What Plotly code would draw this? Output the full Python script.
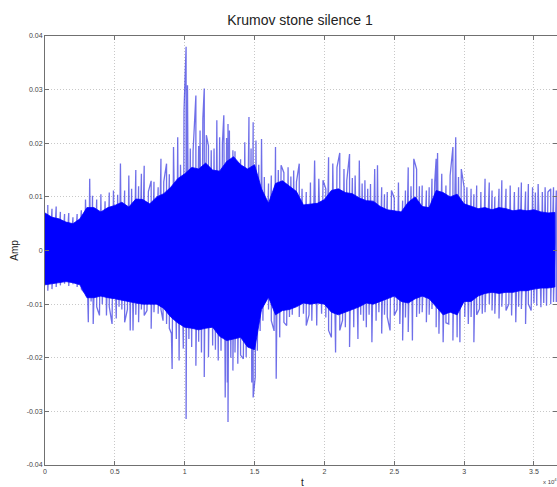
import plotly.graph_objects as go

# Dense body of the waveform (upper / lower envelope), t in units of 10^4 samples
body_t = [0.00, 0.05, 0.10, 0.15, 0.20, 0.25, 0.30, 0.35, 0.40, 0.45, 0.50, 0.55, 0.60, 0.65, 0.70,
          0.75, 0.80, 0.85, 0.90, 0.95, 1.00, 1.05, 1.10, 1.15, 1.20, 1.25, 1.30, 1.35, 1.40, 1.45,
          1.50, 1.55, 1.60, 1.65, 1.70, 1.75, 1.80, 1.85, 1.90, 1.95, 2.00, 2.05, 2.10, 2.15, 2.20,
          2.25, 2.30, 2.35, 2.40, 2.45, 2.50, 2.55, 2.60, 2.65, 2.70, 2.75, 2.80, 2.85, 2.90, 2.95,
          3.00, 3.05, 3.10, 3.15, 3.20, 3.25, 3.30, 3.35, 3.40, 3.45, 3.50, 3.55, 3.60, 3.65]
body_upper = [0.0070, 0.0062, 0.0059, 0.0053, 0.0050, 0.0059, 0.0080, 0.0080, 0.0072, 0.0080, 0.0084,
              0.0090, 0.0081, 0.0096, 0.0095, 0.0087, 0.0100, 0.0106, 0.0118, 0.0134, 0.0143, 0.0155,
              0.0152, 0.0163, 0.0150, 0.0148, 0.0166, 0.0175, 0.0160, 0.0152, 0.0160, 0.0115, 0.0088,
              0.0125, 0.0130, 0.0120, 0.0110, 0.0085, 0.0087, 0.0088, 0.0095, 0.0112, 0.0115, 0.0108,
              0.0106, 0.0098, 0.0093, 0.0092, 0.0082, 0.0076, 0.0074, 0.0072, 0.0090, 0.0100, 0.0082,
              0.0080, 0.0112, 0.0108, 0.0100, 0.0105, 0.0087, 0.0082, 0.0078, 0.0080, 0.0076, 0.0080,
              0.0078, 0.0074, 0.0076, 0.0074, 0.0076, 0.0072, 0.0070, 0.0071]
body_lower = [-0.0064, -0.0062, -0.0060, -0.0058, -0.0060, -0.0064, -0.0088, -0.0088, -0.0085, -0.0088,
              -0.0090, -0.0092, -0.0095, -0.0098, -0.0100, -0.0100, -0.0100, -0.0108, -0.0124, -0.0135,
              -0.0143, -0.0145, -0.0148, -0.0145, -0.0143, -0.0160, -0.0168, -0.0165, -0.0162, -0.0180,
              -0.0185, -0.0110, -0.0087, -0.0120, -0.0112, -0.0110, -0.0105, -0.0098, -0.0100, -0.0098,
              -0.0100, -0.0115, -0.0120, -0.0115, -0.0110, -0.0105, -0.0098, -0.0100, -0.0095, -0.0090,
              -0.0085, -0.0095, -0.0098, -0.0090, -0.0085, -0.0090, -0.0105, -0.0120, -0.0115, -0.0120,
              -0.0095, -0.0095, -0.0085, -0.0080, -0.0078, -0.0080, -0.0078, -0.0078, -0.0075, -0.0075,
              -0.0072, -0.0070, -0.0070, -0.0068]

# Positive peaks
peak_up_t = [0.02, 0.05, 0.08, 0.11, 0.14, 0.17, 0.20, 0.23, 0.26, 0.29, 0.32, 0.34, 0.37, 0.40, 0.43,
             0.46, 0.49, 0.52, 0.54, 0.57, 0.60, 0.62, 0.65, 0.67, 0.69, 0.71, 0.74, 0.76, 0.78, 0.81,
             0.83, 0.85, 0.87, 0.89, 0.92, 0.95, 0.97, 0.995, 1.01, 1.02, 1.04, 1.06, 1.08, 1.10, 1.11,
             1.13, 1.14, 1.155, 1.17, 1.19, 1.21, 1.23, 1.25, 1.27, 1.28, 1.30, 1.31, 1.32, 1.345, 1.36,
             1.38, 1.40, 1.43, 1.46, 1.475, 1.49, 1.51, 1.53, 1.55, 1.57, 1.60, 1.62, 1.65, 1.67, 1.69,
             1.71, 1.74, 1.76, 1.78, 1.80, 1.82, 1.84, 1.87, 1.90, 1.93, 1.96, 1.99, 2.01, 2.03, 2.06,
             2.09, 2.11, 2.14, 2.16, 2.18, 2.20, 2.22, 2.25, 2.27, 2.29, 2.31, 2.33, 2.36, 2.38, 2.41,
             2.43, 2.45, 2.48, 2.50, 2.53, 2.56, 2.58, 2.60, 2.62, 2.64, 2.66, 2.68, 2.70, 2.73, 2.75,
             2.77, 2.79, 2.80, 2.81, 2.84, 2.87, 2.90, 2.92, 2.94, 2.96, 2.98, 3.00, 3.02, 3.05, 3.07,
             3.09, 3.12, 3.15, 3.18, 3.20, 3.22, 3.25, 3.27, 3.30, 3.33, 3.36, 3.39, 3.41, 3.44, 3.46,
             3.49, 3.51, 3.53, 3.56, 3.58, 3.60, 3.62, 3.64, 3.66]
peak_up = [0.0085, 0.0078, 0.0082, 0.0072, 0.0068, 0.0070, 0.0062, 0.0068, 0.0075, 0.0095, 0.0134,
           0.0102, 0.0095, 0.0105, 0.0092, 0.0108, 0.0112, 0.0104, 0.0162, 0.0112, 0.0140, 0.0115,
           0.0150, 0.0120, 0.0143, 0.0158, 0.0110, 0.0130, 0.0128, 0.0118, 0.0171, 0.0128, 0.0162,
           0.0142, 0.0193, 0.0211, 0.0160, 0.0260, 0.0380, 0.0308, 0.0190, 0.0185, 0.0289, 0.0195,
           0.0224, 0.0246, 0.0302, 0.0215, 0.0195, 0.0187, 0.0190, 0.0243, 0.0211, 0.0200, 0.0252,
           0.0210, 0.0236, 0.0224, 0.0187, 0.0185, 0.0162, 0.0170, 0.0202, 0.0249, 0.0190, 0.0239,
           0.0205, 0.0160, 0.0208, 0.0137, 0.0125, 0.0140, 0.0193, 0.0150, 0.0159, 0.0145, 0.0155,
           0.0138, 0.0149, 0.0128, 0.0162, 0.0115, 0.0109, 0.0127, 0.0168, 0.0134, 0.0131, 0.0115,
           0.0174, 0.0162, 0.0155, 0.0182, 0.0152, 0.0130, 0.0180, 0.0135, 0.0140, 0.0168, 0.0125,
           0.0131, 0.0115, 0.0124, 0.0152, 0.0159, 0.0118, 0.0105, 0.0109, 0.0112, 0.0098, 0.0127,
           0.0093, 0.0112, 0.0155, 0.0120, 0.0171, 0.0152, 0.0120, 0.0121, 0.0112, 0.0118, 0.0134,
           0.0128, 0.0171, 0.0182, 0.0143, 0.0121, 0.0140, 0.0193, 0.0211, 0.0137, 0.0152, 0.0118,
           0.0118, 0.0115, 0.0105, 0.0121, 0.0109, 0.0134, 0.0127, 0.0112, 0.0100, 0.0115, 0.0131,
           0.0115, 0.0121, 0.0109, 0.0118, 0.0127, 0.0110, 0.0124, 0.0118, 0.0108, 0.0124, 0.0109,
           0.0118, 0.0109, 0.0115, 0.0118, 0.0112]

# Negative peaks
peak_lo_t = [0.02, 0.05, 0.08, 0.11, 0.14, 0.17, 0.20, 0.23, 0.26, 0.28, 0.31, 0.33, 0.345, 0.37, 0.39,
             0.41, 0.44, 0.46, 0.48, 0.51, 0.53, 0.55, 0.57, 0.59, 0.61, 0.63, 0.65, 0.67, 0.69, 0.71,
             0.73, 0.76, 0.78, 0.81, 0.83, 0.845, 0.87, 0.89, 0.905, 0.91, 0.94, 0.96, 0.99, 1.01, 1.03,
             1.05, 1.08, 1.10, 1.12, 1.14, 1.17, 1.20, 1.22, 1.24, 1.26, 1.29, 1.305, 1.31, 1.33, 1.345,
             1.36, 1.38, 1.40, 1.42, 1.44, 1.46, 1.48, 1.49, 1.505, 1.52, 1.54, 1.56, 1.58, 1.60, 1.62,
             1.64, 1.655, 1.68, 1.71, 1.73, 1.75, 1.77, 1.79, 1.82, 1.85, 1.87, 1.89, 1.91, 1.945, 1.98,
             2.01, 2.03, 2.05, 2.08, 2.11, 2.13, 2.15, 2.18, 2.21, 2.24, 2.26, 2.28, 2.30, 2.32, 2.34,
             2.37, 2.39, 2.41, 2.43, 2.45, 2.47, 2.50, 2.52, 2.54, 2.56, 2.58, 2.60, 2.63, 2.66, 2.68,
             2.70, 2.73, 2.75, 2.77, 2.80, 2.82, 2.85, 2.87, 2.89, 2.92, 2.95, 2.97, 3.005, 3.03, 3.05,
             3.07, 3.09, 3.11, 3.13, 3.15, 3.18, 3.20, 3.22, 3.25, 3.27, 3.30, 3.32, 3.34, 3.37, 3.39,
             3.41, 3.44, 3.46, 3.48, 3.50, 3.52, 3.55, 3.57, 3.59, 3.62, 3.64, 3.66]
peak_lo = [-0.0075, -0.0072, -0.0068, -0.0065, -0.0062, -0.0066, -0.0063, -0.0068, -0.0072, -0.0078,
           -0.0134, -0.0095, -0.0137, -0.0105, -0.0121, -0.0100, -0.0121, -0.0105, -0.0137, -0.0127,
           -0.0105, -0.0110, -0.0134, -0.0110, -0.0149, -0.0149, -0.0120, -0.0134, -0.0110, -0.0121,
           -0.0112, -0.0146, -0.0115, -0.0118, -0.0110, -0.0131, -0.0137, -0.0145, -0.0155, -0.0221,
           -0.0165, -0.0205, -0.0183, -0.0314, -0.0165, -0.0180, -0.0215, -0.0170, -0.0190, -0.0236,
           -0.0199, -0.0177, -0.0185, -0.0205, -0.0187, -0.0274, -0.0246, -0.0320, -0.0200, -0.0224,
           -0.0190, -0.0211, -0.0195, -0.0202, -0.0199, -0.0180, -0.0246, -0.0274, -0.0236, -0.0187,
           -0.0150, -0.0131, -0.0087, -0.0110, -0.0131, -0.0150, -0.0239, -0.0162, -0.0134, -0.0140,
           -0.0124, -0.0120, -0.0100, -0.0124, -0.0118, -0.0140, -0.0120, -0.0131, -0.0140, -0.0118,
           -0.0125, -0.0149, -0.0162, -0.0190, -0.0149, -0.0130, -0.0143, -0.0180, -0.0143, -0.0165,
           -0.0120, -0.0131, -0.0143, -0.0120, -0.0171, -0.0131, -0.0115, -0.0155, -0.0120, -0.0124,
           -0.0149, -0.0121, -0.0110, -0.0137, -0.0168, -0.0125, -0.0152, -0.0168, -0.0124, -0.0118,
           -0.0115, -0.0134, -0.0120, -0.0109, -0.0143, -0.0155, -0.0171, -0.0135, -0.0137, -0.0168,
           -0.0162, -0.0171, -0.0124, -0.0137, -0.0124, -0.0171, -0.0120, -0.0109, -0.0118, -0.0115,
           -0.0100, -0.0112, -0.0118, -0.0127, -0.0105, -0.0112, -0.0100, -0.0121, -0.0134, -0.0105,
           -0.0109, -0.0137, -0.0100, -0.0112, -0.0098, -0.0103, -0.0106, -0.0098, -0.0103, -0.0100,
           -0.0096, -0.0096]

x_ticks = [0, 0.5, 1, 1.5, 2, 2.5, 3, 3.5]
x_tick_text = ["0", "0.5", "1", "1.5", "2", "2.5", "3", "3.5"]
y_ticks = [-0.04, -0.03, -0.02, -0.01, 0, 0.01, 0.02, 0.03, 0.04]
y_tick_text = ["-0.04", "-0.03", "-0.02", "-0.01", "0", "0.01", "0.02", "0.03", "0.04"]

BLUE = "#0000ff"
FONT = "Liberation Sans, Arial, sans-serif"
TEXT = "#222222"

# Oscillating trace: positive and negative peaks merged in time order
samples = sorted(list(zip(peak_up_t, peak_up)) + list(zip(peak_lo_t, peak_lo)),
                 key=lambda p: (p[0], -p[1]))
wave_x = [t for t, _ in samples]
wave_y = [v for _, v in samples]

# Closed polygon for the dense body
poly_x = body_t + body_t[::-1]
poly_y = body_upper + body_lower[::-1]

fig = go.Figure()
fig.add_trace(go.Scatter(x=wave_x, y=wave_y, mode="lines",
                         line=dict(color="rgba(55,55,225,0.72)", width=1.3),
                         hoverinfo="skip", showlegend=False))
fig.add_trace(go.Scatter(x=poly_x, y=poly_y, mode="lines", fill="toself",
                         fillcolor=BLUE, line=dict(color=BLUE, width=0.8),
                         hoverinfo="skip", showlegend=False))

axis_common = dict(showgrid=True, gridcolor="#c8c8c8", griddash="1px,2px", gridwidth=1,
                   showline=True, linecolor="#707070", linewidth=1, mirror="ticks",
                   ticks="inside", ticklen=4, tickcolor="#707070", zeroline=False,
                   tickfont=dict(family=FONT, size=7, color="#444444"))

fig.update_layout(
    width=557, height=487,
    margin=dict(l=45, r=0, t=36, b=22),
    paper_bgcolor="white", plot_bgcolor="white",
    title=dict(text="Krumov stone silence 1", x=300 / 557, xref="container",
               xanchor="center", y=1 - 20 / 487, yref="container", yanchor="middle",
               font=dict(family=FONT, size=14, color=TEXT)),
    xaxis=dict(range=[0, 3.665], tickvals=x_ticks, ticktext=x_tick_text, **axis_common),
    yaxis=dict(range=[-0.04, 0.04], tickvals=y_ticks, ticktext=y_tick_text,
               title=dict(text="Amp", font=dict(family=FONT, size=10, color=TEXT), standoff=6),
               **axis_common),
)
fig.add_annotation(text="t", xref="paper", yref="paper", x=(302 - 45) / 512, y=-18 / 429,
                   xanchor="center", yanchor="middle", showarrow=False,
                   font=dict(family=FONT, size=10, color=TEXT))
fig.add_annotation(text="x 10<sup>4</sup>", xref="paper", yref="paper", x=(541 - 45) / 512,
                   y=-16 / 429, xanchor="left", yanchor="middle", showarrow=False,
                   font=dict(family=FONT, size=6, color="#444444"))

fig.write_html("out.html")
